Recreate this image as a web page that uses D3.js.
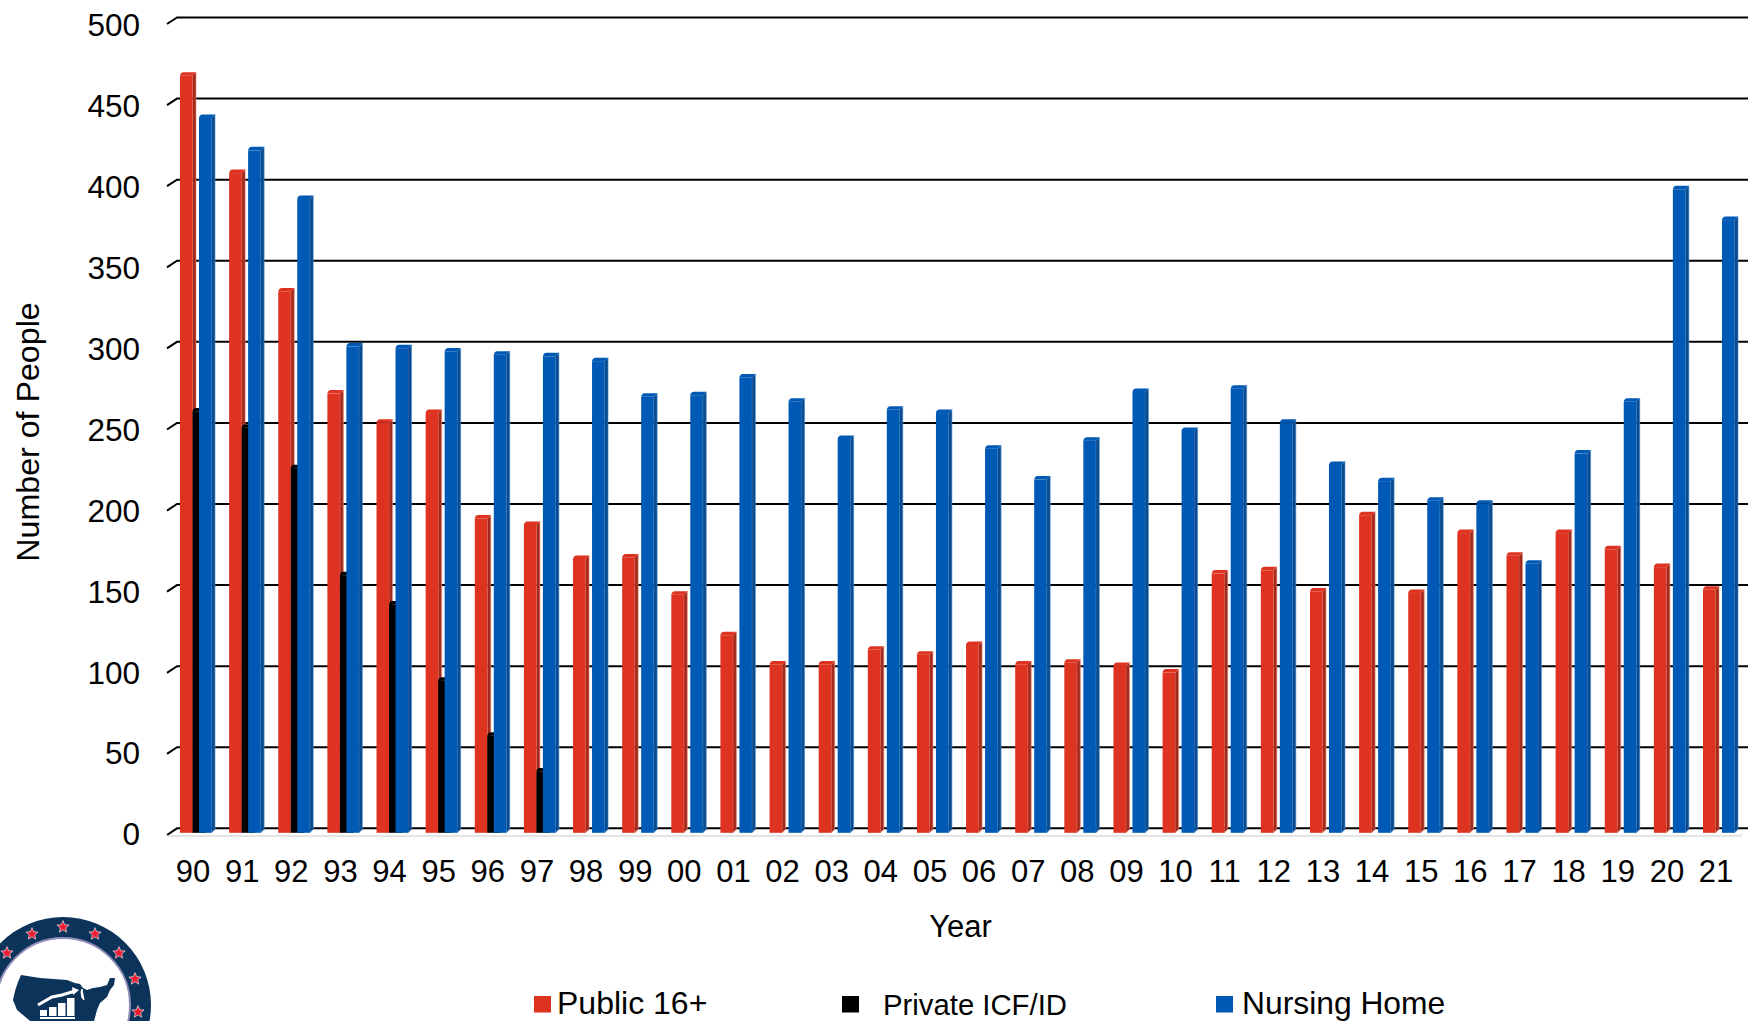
<html>
<head>
<meta charset="utf-8">
<script src="https://d3js.org/d3.v7.min.js"></script>
<style>
body { margin: 0; background: #fff; overflow: hidden; }
svg { display: block; }
text { font-family: "Liberation Sans", Arial, sans-serif; fill: #000; }
</style>
</head>
<body>
<svg id="chart" width="1748" height="1021"></svg>
<script>
// values
var years = ["90","91","92","93","94","95","96","97","98","99","00","01","02","03","04","05","06","07","08","09","10","11","12","13","14","15","16","17","18","19","20","21"]
var publicLarge = [469,409,336,273,255,261,196,192,171,172,149,124,106,106,115,112,118,106,107,105,101,162,164,151,198,150,187,173,187,177,166,152]
var privateIcf = [262,252,227,161,143,96,62,40]
var nursingHome = [443,423,393,302,301,299,297,296,293,271,272,283,268,245,263,261,239,220,244,274,250,276,255,229,219,207,205,168,236,268,399,380]
var yTicks = [0,50,100,150,200,250,300,350,400,450,500]
var seriesNames = ["Public 16+","Private ICF/ID","Nursing Home"]

var svg = d3.select("#chart")
var colors = d3.scaleOrdinal().domain(seriesNames).range(["#dd3320","#000000","#0059b5"])
var sideColors = d3.scaleOrdinal().domain(seriesNames).range(["#a32a1a","#000000","#0b4a8c"])
var edgeColors = d3.scaleOrdinal().domain(seriesNames).range(["#e98a7c","#000000","#4a90d8"])
var offsets = d3.scaleOrdinal().domain(seriesNames).range([0,12.5,19])

var x = d3.scaleBand().domain(years).range([180,1737]).paddingInner(0.308).paddingOuter(0)
var yWall = d3.scaleLinear().domain([0,500]).range([828.3,17.5])   // gridlines on the back wall
var yBar = d3.scaleLinear().domain([0,500]).range([832.8,22])      // bars stand in front of it
var yFoot = d3.scaleLinear().domain([0,500]).range([835,24])       // front edge of the floor
var yLabel = d3.scaleLinear().domain([0,500]).range([833.5,24.5])

var front = 12.5, depth = 3.5

// gridlines with the little slanted foot
svg.append("g").selectAll("path").data(yTicks).enter().append("path")
	.attr("d", d => `M167,${yFoot(d)}L177,${yWall(d)}H1748`)
	.attr("fill", "none")
	.attr("stroke", "#000")
	.attr("stroke-width", 2)

svg.append("path")
	.attr("d", "M167,836H1740l2,-2")
	.attr("fill", "none")
	.attr("stroke", "#dcdcdc")
	.attr("stroke-width", 1.5)

// y axis labels
var yAxis = svg.append("g")
	.attr("transform", "translate(140,0)")
	.call(d3.axisLeft(yLabel).tickValues(yTicks).tickSize(0).tickPadding(0))
yAxis.select(".domain").remove()
yAxis.selectAll("text")
	.attr("font-size", 31.5)
	.attr("font-family", null)
	.attr("dy", "0.36em")

// x axis labels
var xAxis = svg.append("g")
	.attr("transform", "translate(-4,851)")
	.call(d3.axisBottom(x).tickSize(0).tickPadding(0))
xAxis.select(".domain").remove()
xAxis.selectAll("text")
	.attr("font-size", 31)
	.attr("font-family", null)
	.attr("dy", "0.71em")
	.attr("y", 9)

svg.append("text")
	.attr("x", 960.5).attr("y", 937)
	.attr("text-anchor", "middle")
	.attr("font-size", 31)
	.text("Year")

svg.append("text")
	.attr("transform", "translate(39,432) rotate(-90)")
	.attr("text-anchor", "middle")
	.attr("font-size", 32.2)
	.text("Number of People")

// bars, one group per year so black sits over red and blue over black
var rows = years.map((year, i) => ({
	year: year,
	bars: [
		{name: seriesNames[0], value: publicLarge[i]},
		{name: seriesNames[1], value: privateIcf[i]},
		{name: seriesNames[2], value: nursingHome[i]}
	].filter(b => b.value !== undefined)
}))

var groups = svg.append("g").selectAll("g").data(rows).enter().append("g")
	.attr("transform", d => `translate(${x(d.year)},0)`)

var bars = groups.selectAll("g").data(d => d.bars).enter().append("g")
	.attr("transform", d => `translate(${offsets(d.name)},0)`)

bars.append("path")
	.attr("d", d => {
		var t = yBar(d.value), b = yBar(0)
		return `M${front},${t + depth}L${front + depth},${t}V${b - depth}L${front},${b}Z`
	})
	.attr("fill", d => sideColors(d.name))
	.attr("stroke", d => edgeColors(d.name))
	.attr("stroke-width", 0.6)

bars.append("path")
	.attr("d", d => {
		var t = yBar(d.value)
		return `M0,${t + depth}Q0.5,${t} ${depth},${t}H${front + depth}L${front},${t + depth}Z`
	})
	.attr("fill", d => colors(d.name))

bars.append("rect")
	.attr("y", d => yBar(d.value) + depth)
	.attr("width", front)
	.attr("height", d => yBar(0) - yBar(d.value) - depth)
	.attr("fill", d => colors(d.name))

// legend
var legendX = [534,842,1216], legendTextX = [557,883,1242], legendY = [1014,1014.5,1014], legendSize = [32,29.3,31.8]
var legend = svg.append("g").selectAll("g").data(seriesNames).enter().append("g")
legend.append("rect")
	.attr("x", (d, i) => legendX[i])
	.attr("y", 996)
	.attr("width", 17)
	.attr("height", 16.5)
	.attr("fill", d => colors(d))
legend.append("text")
	.attr("x", (d, i) => legendTextX[i])
	.attr("y", (d, i) => legendY[i])
	.attr("font-size", (d, i) => legendSize[i])
	.text(d => d)

// logo in the bottom left corner, runs off the page
var navy = "#0c3359"
var logo = svg.append("g")
logo.append("circle").attr("cx", 63).attr("cy", 1005).attr("r", 88).attr("fill", navy)
logo.append("circle").attr("cx", 63).attr("cy", 1005).attr("r", 67).attr("fill", "#fff").attr("stroke", "#8f8db8").attr("stroke-width", 2)
logo.append("path")
	.attr("d", "M21,975L40,978L67,980L75,983L80,984L83,988L87,990L93,988L100,987L107,985L110,978L115,978L114,985L110,990L107,997L100,1003L97,1010L93,1025H35L17,1010L13,1000L15,991L18,982Z")
	.attr("fill", navy)
// lake michigan slit
logo.append("path").attr("d", "M82,989L84,1000L82,998L81,992Z").attr("fill", "#fff").attr("stroke", "#fff")
var logoBars = [[40,1010,7],[49,1007,7.5],[58,1003,7.5],[67,998,7.5]]
logo.selectAll("rect").data(logoBars).enter().append("rect")
	.attr("x", d => d[0]).attr("y", d => d[1])
	.attr("width", d => d[2]).attr("height", d => 1016 - d[1])
	.attr("fill", "#fff")
logo.append("rect").attr("x", 40).attr("y", 1017).attr("width", 35).attr("height", 2).attr("fill", "#fff")
logo.append("path")
	.attr("d", "M38,1005L52,997L62,995L75,991")
	.attr("fill", "none").attr("stroke", "#fff").attr("stroke-width", 3)
logo.append("path").attr("d", "M72,987L79,990L73,995Z").attr("fill", "#fff")

var starSpots = [[63,927],[32,934],[7,953],[95,934],[119,953],[135,979],[138,1012]]
var star = d3.range(10).map(i => {
	var r = i % 2 ? 2.8 : 6.4, a = i * Math.PI / 5
	return [r * Math.sin(a), -r * Math.cos(a)]
})
logo.selectAll("polygon").data(starSpots).enter().append("polygon")
	.attr("points", star.join(" "))
	.attr("transform", d => `translate(${d[0]},${d[1]})`)
	.attr("fill", "#ee1c2e")
	.attr("stroke", "#fff")
	.attr("stroke-width", 0.6)
</script>
</body>
</html>
